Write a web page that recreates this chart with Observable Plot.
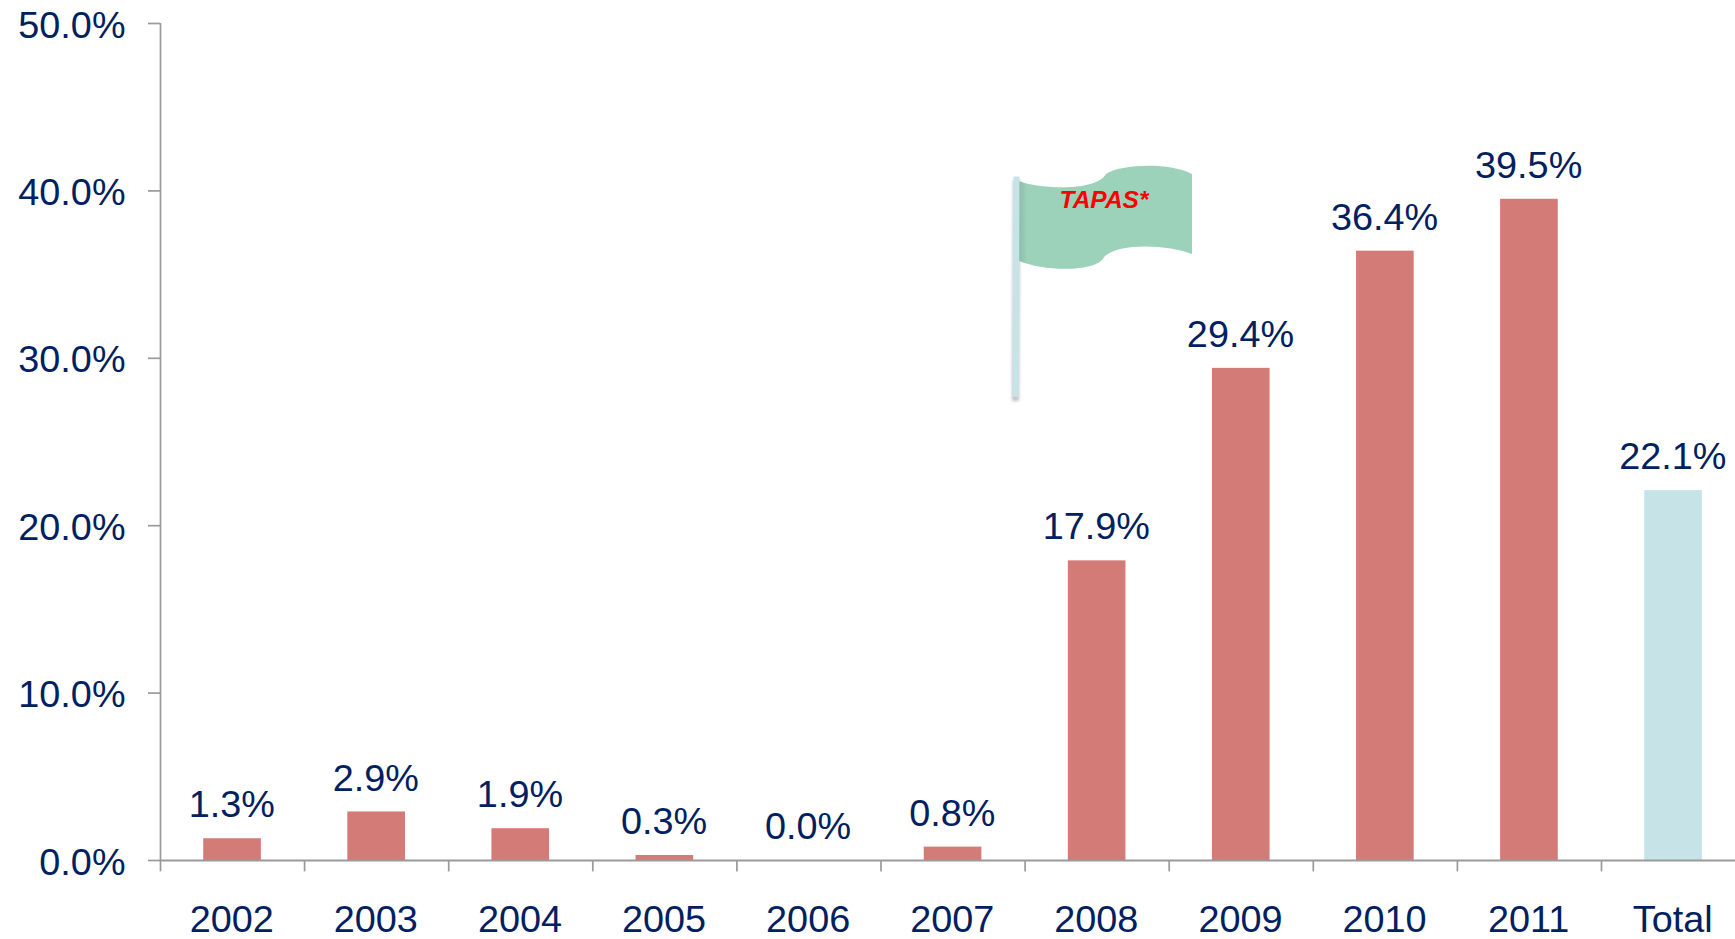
<!DOCTYPE html>
<html>
<head>
<meta charset="utf-8">
<script src="https://cdn.jsdelivr.net/npm/d3@7"></script>
<script src="https://cdn.jsdelivr.net/npm/@observablehq/plot@0.6"></script>
<style>
  html, body { margin: 0; padding: 0; background: #fff; overflow: hidden; }
  svg { display: block; }
</style>
</head>
<body>
<div id="chart"></div>
<script>
const years = ["2002","2003","2004","2005","2006","2007","2008","2009","2010","2011","Total"];
const rates = [1.3, 2.9, 1.9, 0.3, 0.0, 0.8, 17.9, 29.4, 36.4, 39.5, 22.1];
const yTicks = [0, 10, 20, 30, 40, 50];
const flagLabel = "TAPAS*";

const rows = years.map((year, i) => ({year, rate: rates[i]}));
const ink = "#002060", axisGrey = "#9a9a9a", bandStep = 144.1;

function flagMark() {
  const g = d3.create("svg:g");
  const defs = g.append("defs");
  const grad = defs.append("linearGradient").attr("id", "flagShade");
  grad.append("stop").attr("offset", "0").attr("stop-color", "#8cbda8");
  grad.append("stop").attr("offset", "0.05").attr("stop-color", "#9dd2ba");
  grad.append("stop").attr("offset", "1").attr("stop-color", "#9dd2ba");
  defs.append("filter").attr("id", "poleBlur").attr("x", "-100%").attr("width", "300%")
    .append("feGaussianBlur").attr("stdDeviation", 1.5);
  g.append("path")
    .attr("d", "M1013,180 L1020,180 L1019,401 L1012,401 Z")
    .attr("fill", "#aaa").attr("fill-opacity", 0.7).attr("filter", "url(#poleBlur)");
  g.append("path")
    .attr("d", "M1019,181 C1035,188 1095,193 1106,174 C1120,164 1170,162 1192,174 L1192,254 C1170,245 1118,242 1104,257 C1098,272 1045,272 1019,261 Z")
    .attr("fill", "url(#flagShade)");
  g.append("path")
    .attr("d", "M1013.500,176.500 L1019.500,176.500 L1018.700,397 L1012.700,397 Z")
    .attr("fill", "#c6e4e7");
  g.append("text")
    .attr("x", 1104).attr("y", 208).attr("text-anchor", "middle")
    .attr("font-size", 24.5).attr("font-weight", "bold").attr("font-style", "italic")
    .attr("fill", "#ff0000").text(flagLabel);
  return g.node();
}

const chart = Plot.plot({
  width: 1735,
  height: 939,
  marginLeft: 160,
  marginRight: 0,
  marginTop: 23,
  marginBottom: 79,
  style: {fontFamily: "'Liberation Sans', Arial, sans-serif", background: "#fff", overflow: "hidden"},
  x: {domain: years, range: [160, 160 + bandStep * years.length], paddingInner: 0.6, paddingOuter: 0.3, align: 0.5, round: false},
  y: {domain: [0, 50], range: [860, 23]},
  marks: [
    Plot.barY(rows, {x: "year", y: "rate", fill: d => d.year === "Total" ? "#c6e4e7" : "#d37b76"}),
    Plot.ruleY([0], {stroke: axisGrey, strokeWidth: 2}),
    Plot.ruleX([years[0]], {x: d => d, dx: -bandStep / 2, y1: 0, y2: 50, stroke: axisGrey, strokeWidth: 1.700}),
    Plot.ruleX(years, {x: d => d, dx: -bandStep / 2, y1: 0, y2: -0.68, stroke: axisGrey, strokeWidth: 1.700}),
    Plot.axisY({
      ticks: yTicks, tickSize: 12, stroke: axisGrey, strokeWidth: 1.700, strokeOpacity: 1,
      tickFormat: () => "", label: null
    }),
    Plot.axisY({
      ticks: yTicks, tickSize: 0, tickPadding: 35,
      tickFormat: d => d.toFixed(1) + "%", fontSize: 37.800, fill: ink, label: null, dy: 2
    }),
    Plot.axisX({
      tickSize: 0, tickPadding: 0, fontSize: 37.800, fill: ink, label: null, lineAnchor: "middle", dy: 59.500, dx: -0.800
    }),
    Plot.text(rows, {
      x: "year", y: "rate", text: d => d.rate.toFixed(1) + "%", dy: -33.500, dx: -0.800,
      fontSize: 37.800, fill: ink, textAnchor: "middle", lineAnchor: "middle"
    }),
    flagMark
  ]
});
document.getElementById("chart").appendChild(chart);
</script>
</body>
</html>
